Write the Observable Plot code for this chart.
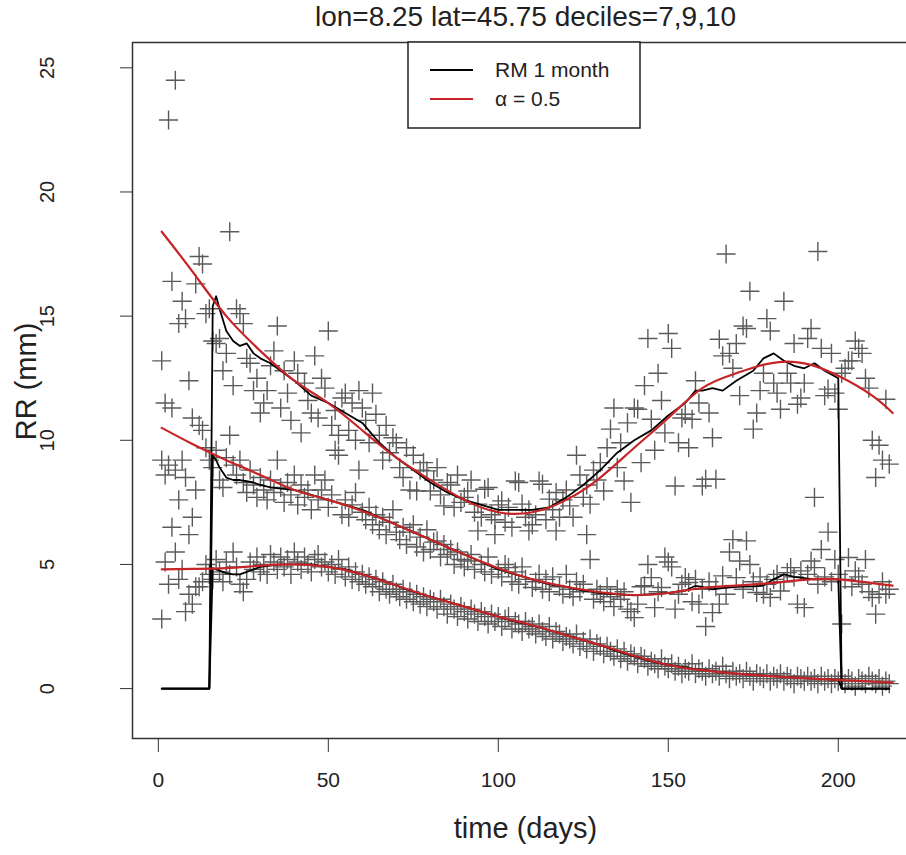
<!DOCTYPE html>
<html><head><meta charset="utf-8">
<script src="https://cdn.jsdelivr.net/npm/d3@7"></script>
<script src="https://cdn.jsdelivr.net/npm/@observablehq/plot@0.6"></script>
<style>html,body{margin:0;padding:0;background:#fff;overflow:hidden}#chart svg{overflow:hidden;display:block}</style>
</head><body><div id="chart"></div>
<script>
const titleText = "lon=8.25 lat=45.75 deciles=7,9,10";
const xLabel = "time (days)";
const yLabel = "RR (mm)";
const xTicks = [0, 50, 100, 150, 200];
const yTicks = [0, 5, 10, 15, 20, 25];
const legendLabels = ["RM 1 month", "\u03b1 = 0.5"];

// daily values, days 1..215
const d10 = [
13.2,11.5,22.9,16.4,24.5,14.7,15.6,14.9,12.4,10.9,
16.3,17.4,17.1,15.1,15.3,14.0,13.9,14.1,12.8,13.5,
18.4,12.2,15.3,15.1,14.7,13.3,13.1,12.0,12.5,11.1,
11.5,12.0,13.0,13.6,14.6,11.3,12.8,11.9,10.8,13.2,
12.7,10.3,12.3,11.6,11.1,13.4,10.9,12.5,12.1,14.4,
10.6,11.2,10.2,11.7,11.9,10.4,11.5,10.0,12.0,11.3,
10.8,9.9,11.9,11.05,10.2,9.2,10.6,9.5,10.1,9.9,
8.9,8.5,9.7,8.0,9.4,7.96,8.8,9.1,8.77,7.96,
8.4,8.9,7.8,7.36,8.3,8.2,7.3,8.6,7.5,7.7,
7.96,8.4,7.1,7.43,6.9,8.03,8.1,7.0,6.8,7.4,
7.56,6.7,7.3,6.5,8.36,8.3,7.43,6.9,7.2,6.6,
7.0,8.36,8.23,6.8,7.63,7.2,7.9,6.9,7.6,8.0,
7.36,6.9,9.4,8.6,7.7,8.2,7.43,8.8,8.4,9.1,
7.96,9.7,10.45,11.3,8.9,9.9,8.36,10.7,7.5,11.3,
11.25,9.1,12.2,14.1,10.85,9.6,12.7,11.6,10.3,14.3,
13.7,8.16,9.9,10.9,11.05,9.7,10.85,12.4,11.5,8.16,
8.43,11.1,10.1,8.43,14.07,13.4,17.5,13.5,12.9,13.9,
11.8,14.6,14.5,16.0,10.45,11.1,12.0,12.7,14.9,14.4,
12.3,11.9,11.25,15.6,12.7,12.3,13.9,11.45,11.7,12.3,
14.1,14.5,7.7,17.6,13.7,11.8,12.06,13.5,11.9,11.25,
12.7,12.9,13.2,13.2,14.0,13.7,13.5,12.5,12.1,10.0,
8.5,9.8,9.2,11.65,9.04];
const d9 = [
9.2,8.6,9.0,11.3,8.8,7.6,9.2,8.5,6.2,6.9,
8.0,10.6,10.4,9.7,9.2,8.9,9.6,8.4,8.1,9.3,
10.2,9.0,8.6,9.2,8.3,7.9,8.8,8.2,7.7,8.5,
8.0,7.6,8.4,7.9,9.2,8.1,7.5,8.3,7.8,8.6,
7.4,8.2,7.7,8.0,7.2,8.6,7.6,8.0,8.4,7.3,
7.8,9.6,9.4,7.0,7.6,6.9,7.4,7.9,8.8,7.1,
6.8,7.3,6.6,7.0,6.4,6.9,6.2,6.7,7.2,6.3,
6.0,6.5,5.8,6.3,6.6,5.7,6.1,5.5,6.4,5.6,
5.9,5.95,5.3,5.8,5.4,5.6,5.0,5.5,5.2,4.9,
5.14,5.4,4.8,6.35,5.0,4.7,5.3,4.6,6.2,4.8,
4.5,5.0,4.87,4.3,4.7,4.2,4.9,4.4,6.35,4.07,
4.3,4.6,4.0,4.4,3.9,4.5,6.35,4.1,3.8,4.6,
4.0,3.7,4.3,3.9,4.2,6.2,5.2,3.6,4.0,3.8,
3.5,4.1,3.7,3.3,4.0,3.6,3.9,3.2,3.1,2.86,
3.4,4.1,4.14,5.0,4.47,3.26,3.9,4.07,5.3,5.1,
4.9,3.2,3.8,4.2,4.47,4.27,3.5,4.4,3.4,4.0,
2.5,4.3,3.06,4.1,3.4,4.54,3.8,5.5,6.0,4.47,
5.14,4.0,5.95,5.0,4.3,3.87,4.5,3.8,4.2,3.67,
4.4,4.6,3.93,4.3,4.67,4.87,4.5,3.4,4.74,3.26,
4.6,5.14,4.87,4.2,5.6,4.5,6.3,4.3,5.2,4.6,
2.6,4.4,5.28,4.1,4.74,4.5,4.2,5.2,3.9,3.67,
3.0,3.8,4.3,3.8,4.0];
const d7 = [
2.8,5.1,4.2,6.5,5.5,4.4,4.8,3.1,3.8,3.4,
4.1,4.1,4.3,5.0,4.6,4.4,5.2,4.7,4.3,5.1,
4.6,5.5,4.9,4.2,3.9,4.4,5.1,4.8,5.3,4.7,
5.0,4.6,5.4,5.1,4.8,5.3,4.9,5.2,4.6,5.5,
5.1,4.8,5.3,5.0,4.7,5.2,5.4,4.9,5.1,4.7,
5.0,4.6,5.2,4.8,4.5,4.9,4.4,4.7,4.3,4.6,
4.2,4.5,4.1,4.4,3.9,4.3,4.0,3.8,4.2,3.9,
3.7,4.0,3.6,3.9,3.5,3.8,3.4,3.7,3.3,3.6,
3.5,3.2,3.6,3.3,3.0,3.4,3.2,2.9,3.3,3.1,
2.8,3.2,3.0,2.7,3.1,2.9,2.6,3.0,2.7,2.9,
2.5,2.8,2.9,2.4,2.7,2.6,2.3,2.7,2.4,2.5,
2.2,2.6,2.3,2.1,2.5,2.0,2.3,2.2,1.9,2.1,
2.0,1.8,2.2,1.7,1.9,1.6,2.0,1.5,1.8,1.7,
1.4,1.7,1.5,1.3,1.6,1.2,1.5,1.1,1.4,1.3,
1.0,1.3,1.2,0.9,1.1,1.0,0.8,1.2,0.9,0.8,
1.0,0.7,0.9,0.6,0.8,0.7,1.0,0.6,0.8,0.7,
0.5,0.8,0.6,0.7,0.5,0.9,0.6,0.4,0.7,0.5,
0.6,0.4,0.7,0.5,0.3,0.6,0.5,0.4,0.6,0.3,
0.5,0.4,0.6,0.3,0.5,0.4,0.2,0.5,0.4,0.3,
0.5,0.3,0.4,0.2,0.5,0.3,0.4,0.2,0.4,0.3,
0.5,0.2,0.4,0.3,0.1,0.4,0.3,0.2,0.5,0.3,
0.2,0.4,0.1,0.3,0.2];

// running mean (1 month)
const rmDays = [1,15,16,17,18,20,22,24,26,28,30,33,36,40,45,50,55,60,65,70,75,80,85,90,95,100,105,110,115,120,125,130,135,140,145,150,155,158,160,163,166,170,175,178,181,184,187,190,193,196,200,201,215];
const rm10 = [0,0,15.4,15.8,15.3,14.4,14.0,13.8,13.9,13.5,13.3,13.1,12.8,12.4,11.8,11.5,11.1,10.7,9.9,9.3,8.8,8.3,7.9,7.6,7.4,7.2,7.2,7.2,7.3,7.7,8.2,8.8,9.5,10.0,10.4,11.0,11.5,12.0,12.0,12.1,12.0,12.4,12.8,13.3,13.5,13.2,13.0,12.9,13.1,12.8,12.5,0,0];
const rm9 = [0,0,9.4,9.2,8.9,8.5,8.4,8.4,8.35,8.3,8.2,8.1,8.05,8.0,7.8,7.6,7.4,7.2,6.9,6.6,6.3,6.0,5.7,5.4,5.1,4.8,4.6,4.4,4.2,4.1,3.95,3.85,3.8,3.75,3.8,3.85,3.95,4.14,4.1,4.0,4.05,4.1,4.12,4.15,4.4,4.6,4.5,4.45,4.4,4.4,4.4,0,0];
const rm7 = [0,0,4.85,4.8,4.75,4.65,4.6,4.6,4.7,4.8,4.9,4.95,5.0,5.0,5.0,4.9,4.8,4.6,4.4,4.15,3.9,3.7,3.5,3.3,3.1,2.9,2.7,2.55,2.35,2.15,1.95,1.75,1.5,1.3,1.1,0.95,0.85,0.78,0.75,0.7,0.65,0.6,0.55,0.52,0.5,0.47,0.45,0.42,0.4,0.38,0.35,0,0];

// smoothed fit (alpha = 0.5)
const smDays = [1,10,20,30,40,50,60,70,80,90,100,110,120,130,140,150,160,170,180,190,200,210,216];
const sm10 = [18.4,16.8,15.0,13.6,12.4,11.5,10.4,9.3,8.4,7.6,7.1,7.1,7.6,8.5,9.7,10.9,12.1,12.7,13.1,13.1,12.6,11.8,11.1];
const sm9 = [10.5,9.85,9.2,8.6,8.0,7.6,7.15,6.6,6.0,5.4,4.85,4.4,4.1,3.88,3.77,3.85,4.05,4.15,4.25,4.38,4.4,4.25,4.15];
const sm7 = [4.8,4.82,4.85,4.95,5.0,4.9,4.6,4.15,3.7,3.3,2.9,2.55,2.15,1.75,1.32,0.95,0.74,0.6,0.5,0.42,0.35,0.28,0.24];

const points = [];
[["10", d10], ["9", d9], ["7", d7]].forEach(([k, arr]) => arr.forEach((v, i) => points.push({day: i + 1, rr: v, decile: k})));
const rm = [];
[["10", rm10], ["9", rm9], ["7", rm7]].forEach(([k, arr]) => arr.forEach((v, i) => rm.push({day: rmDays[i], rr: v, decile: k})));
const sm = [];
[["10", sm10], ["9", sm9], ["7", sm7]].forEach(([k, arr]) => arr.forEach((v, i) => sm.push({day: smDays[i], rr: v, decile: k})));

const font = "'Liberation Sans', Arial, Helvetica, sans-serif";
const chart = Plot.plot({
  width: 906, height: 855,
  marginLeft: 132, marginRight: -12, marginTop: 42, marginBottom: 117,
  x: {domain: [-7.6, 223.6]},
  y: {domain: [-2.01, 26.02]},
  style: {fontFamily: font, background: "white", color: "#222"},
  marks: [
    Plot.dot(points, {x: "day", y: "rr", symbol: "plus", r: 6.2, stroke: "#5a5a5a", strokeWidth: 1.4}),
    Plot.line(rm, {x: "day", y: "rr", z: "decile", stroke: "black", strokeWidth: 1.8}),
    Plot.line(sm, {x: "day", y: "rr", z: "decile", stroke: "#c62426", strokeWidth: 2.2, curve: "natural"}),
    Plot.frame({stroke: "#333", strokeWidth: 1.5}),
    Plot.axisX({ticks: xTicks, tickSize: 14, tickPadding: 20, fontSize: 21, label: null, stroke: "#333"}),
    Plot.axisY({ticks: yTicks, tickSize: 12, tickFormat: () => "", label: null, stroke: "#333"}),
    Plot.text(yTicks, {y: d => d, text: d => String(d), frameAnchor: "left", dx: -85, rotate: -90, fontSize: 20, textAnchor: "middle", lineAnchor: "middle", fill: "#222"}),
    Plot.text([yLabel], {text: d => d, frameAnchor: "left", dx: -106, dy: -9, rotate: -90, fontSize: 29, textAnchor: "middle", lineAnchor: "middle", fill: "#222"}),
    Plot.text([xLabel], {text: d => d, frameAnchor: "bottom", dy: 90, fontSize: 29, lineAnchor: "middle", fill: "#222"}),
    Plot.text([titleText], {text: d => d, frameAnchor: "top", dy: -25, fontSize: 28, lineAnchor: "middle", fill: "#222"})
  ]
});
document.getElementById("chart").append(chart);

// legend box (R legend at "top")
const svg = d3.select(chart);
const g = svg.append("g").attr("font-family", font).attr("font-size", 21).attr("fill", "#222").attr("text-anchor", "start");
g.append("rect").attr("x", 408).attr("y", 42).attr("width", 232).attr("height", 86)
  .attr("fill", "white").attr("stroke", "#222").attr("stroke-width", 1.5);
const legendColors = ["black", "#c62426"];
legendLabels.forEach((lab, i) => {
  const yy = 70 + i * 29;
  g.append("line").attr("x1", 430).attr("x2", 473).attr("y1", yy).attr("y2", yy)
    .attr("stroke", legendColors[i]).attr("stroke-width", i ? 2.2 : 1.8);
  g.append("text").attr("x", 495).attr("y", yy).attr("dy", "0.35em").attr("text-anchor", "start").text(lab);
});
</script>
</body></html>
